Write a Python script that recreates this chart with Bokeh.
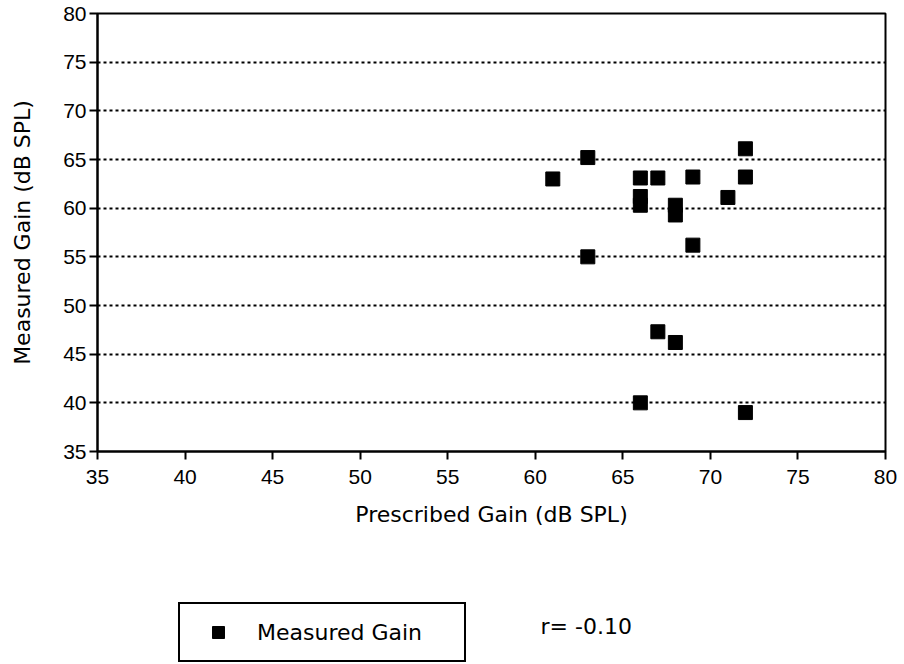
from bokeh.plotting import figure
from bokeh.models import (Range1d, FixedTicker, Legend, LegendItem, Label)
from bokeh.layouts import column
from bokeh.embed import file_html
from bokeh.resources import INLINE

# ---- data ----
prescribed_gain = [61, 63, 63, 66, 67, 66, 66, 68, 68, 69, 69, 71, 72, 72, 67, 68, 66, 72]
measured_gain = [63.0, 65.2, 55.0, 63.1, 63.1, 61.2, 60.3, 60.3, 59.3, 63.2, 56.2, 61.1,
                 66.1, 63.2, 47.3, 46.2, 40.0, 39.0]
tick_values = [35, 40, 45, 50, 55, 60, 65, 70, 75, 80]
series_name = "Measured Gain"
r_text = "r= -0.10"
x_title = "Prescribed Gain (dB SPL)"
y_title = "Measured Gain (dB SPL)"

TICK_FONT = "Liberation Sans"
TEXT_FONT = "DejaVu Sans"

p = figure(width=904, height=560, output_backend="svg", toolbar_location=None,
           x_range=Range1d(35, 80), y_range=Range1d(35, 80),
           min_border_left=97, min_border_right=19, min_border_top=13,
           min_border_bottom=109)
p.background_fill_color = "white"
p.border_fill_color = "white"
p.outline_line_color = "black"
p.outline_line_width = 2

p.scatter(prescribed_gain, measured_gain, marker="square", size=14,
          fill_color="black", line_color="black")

for ax in (p.xaxis[0], p.yaxis[0]):
    ax.ticker = FixedTicker(ticks=tick_values)
    ax.axis_line_color = "black"
    ax.axis_line_width = 2
    ax.major_tick_line_color = "black"
    ax.major_tick_line_width = 2
    ax.major_tick_in = 0
    ax.major_tick_out = 8
    ax.minor_tick_line_color = None
    ax.major_label_text_font = TICK_FONT
    ax.major_label_text_font_size = "21px"
    ax.major_label_text_color = "black"
    ax.axis_label_text_font = TEXT_FONT
    ax.axis_label_text_font_size = "22px"
    ax.axis_label_text_font_style = "normal"
    ax.axis_label_text_color = "black"

p.xaxis.axis_label = x_title
p.yaxis.axis_label = y_title
p.xaxis.major_label_standoff = 10
p.yaxis.major_label_standoff = 3
p.xaxis.axis_label_standoff = 15
p.yaxis.axis_label_standoff = 25

p.xgrid.grid_line_color = None
p.ygrid.ticker = FixedTicker(ticks=tick_values)
p.ygrid.grid_line_color = "black"
p.ygrid.grid_line_width = 2
p.ygrid.grid_line_dash = "3 3"

# ---- lower panel: legend box and correlation note ----
# frame is aligned with the upper plot's frame (x 97..885), so use page-pixel ranges
q = figure(width=904, height=104, output_backend="svg", toolbar_location=None,
           x_range=Range1d(97, 885), y_range=Range1d(0, 104),
           min_border_left=97, min_border_right=19, min_border_top=0,
           min_border_bottom=0, x_axis_location=None, y_axis_location=None)
q.outline_line_color = None
q.background_fill_color = "white"
q.border_fill_color = "white"
q.xgrid.visible = False
q.ygrid.visible = False

# legend key: same series, hidden in this panel (only its legend swatch is shown)
key = q.scatter(prescribed_gain, measured_gain, marker="square", size=14,
                fill_color="black", line_color="black", visible=False)

legend = Legend(items=[LegendItem(label=series_name, renderers=[key])],
                location=(81, 2), orientation="vertical",
                border_line_color="black", border_line_width=2,
                border_line_alpha=1,
                background_fill_color="white", background_fill_alpha=1,
                inactive_fill_alpha=0,
                padding=13, spacing=0, margin=0,
                glyph_width=50, glyph_height=30, label_standoff=14,
                label_width=194, label_height=30,
                label_text_font=TEXT_FONT, label_text_font_size="22px",
                label_text_color="black", label_text_baseline="middle")
q.add_layout(legend, "center")

q.add_layout(Label(x=540, y=38, text=r_text, text_font=TEXT_FONT,
                   text_font_size="22px", text_color="black",
                   text_baseline="middle", text_align="left"))

layout = column(p, q, spacing=0)
open("out.html", "w").write(file_html(layout, INLINE))
